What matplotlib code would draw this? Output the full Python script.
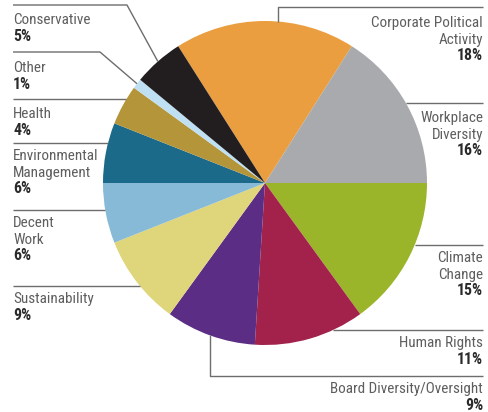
import numpy as np
import matplotlib
matplotlib.use("Agg")
import matplotlib.pyplot as plt

# Shares in percent, clockwise from the top
labels = ["Corporate Political\nActivity", "Workplace\nDiversity", "Climate\nChange",
          "Human Rights", "Board Diversity/Oversight", "Sustainability",
          "Decent\nWork", "Environmental\nManagement", "Health", "Other", "Conservative"]
values = [18, 16, 15, 11, 9, 9, 6, 6, 4, 1, 5]
colors = ["#EA9E3F", "#A8AAAD", "#9BB52B", "#A3224B", "#5C2D84", "#DFD57A",
          "#86BAD6", "#1B6A8A", "#B4953A", "#BFE0F2", "#221E1F"]

W, H = 489, 412
cx, cy, R = 265, H - 183, 162

# label layout: (side, first baseline y, leader kind, leader y, extra)
layout = [
    ("right", 27, "drop", 7, 278),
    ("right", 122, "flat", 103, None),
    ("right", 262, "flat", 245, None),
    ("right", 347, "flat", 330, None),
    ("right", 393, "drop", 376, 210),
    ("left", 303, "flat", 286, None),
    ("left", 227, "flat", 210, None),
    ("left", 160, "flat", 143, None),
    ("left", 118, "flat", 99, None),
    ("left", 72, "elbow", 52, 100),
    ("left", 24, "elbow", 5, 127),
]

plt.rcParams["font.family"] = ["Roboto Condensed", "DejaVu Sans"]

fig = plt.figure(figsize=(W / 100, H / 100), dpi=100)
ax = fig.add_axes([0, 0, 1, 1])
wedges, _ = ax.pie(values, colors=colors, startangle=122.4, counterclock=False,
                   center=(cx, cy), radius=R, wedgeprops=dict(linewidth=0))
ax.set_xlim(0, W)
ax.set_ylim(0, H)
ax.set_aspect("equal")
ax.axis("off")

LX, RX = 13, 483
line_kw = dict(color="#6d6d6d", lw=1.0, solid_capstyle="butt")
name_col, pct_col = "#5e5e5e", "#2b2b2b"
fs, step = 10.9, 16.5

for w, lab, val, (side, ty, kind, ly, extra) in zip(wedges, labels, values, layout):
    ly_d = H - ly
    if kind == "flat":
        dx = np.sqrt(R ** 2 - (ly_d - cy) ** 2)
        if side == "left":
            ax.plot([LX, cx - dx], [ly_d, ly_d], **line_kw)
        else:
            ax.plot([cx + dx, RX], [ly_d, ly_d], **line_kw)
    elif kind == "drop":
        dy = np.sqrt(R ** 2 - (extra - cx) ** 2)
        ey = cy + dy if ly_d > cy else cy - dy
        ax.plot([extra, extra, RX], [ey, ly_d, ly_d], **line_kw)
    else:
        mid = np.deg2rad((w.theta1 + w.theta2) / 2)
        ex, ey = cx + R * np.cos(mid), cy + R * np.sin(mid)
        ax.plot([LX, extra, ex], [ly_d, ly_d, ey], **line_kw)

    x = LX if side == "left" else RX
    ha = "left" if side == "left" else "right"
    lines = lab.split("\n")
    for i, t in enumerate(lines):
        ax.text(x, H - (ty + i * step), t, ha=ha, va="baseline", fontsize=fs,
                color=name_col)
    ax.text(x, H - (ty + len(lines) * step), f"{val}%", ha=ha, va="baseline",
            fontsize=fs + 0.5, fontweight="bold", color=pct_col)

fig.savefig("out.png", dpi=100)
